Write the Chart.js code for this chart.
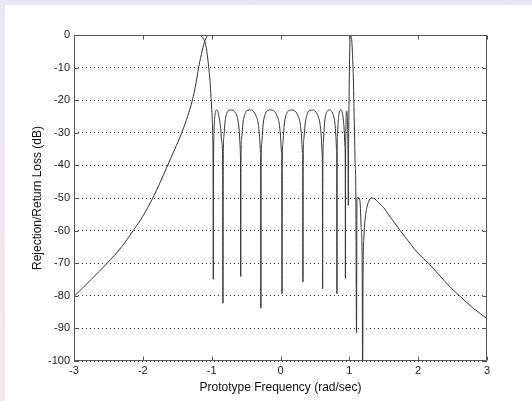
<!DOCTYPE html>
<html>
<head>
<meta charset="utf-8">
<script src="https://cdn.jsdelivr.net/npm/chart.js@4/dist/chart.umd.min.js"></script>
<style>
    html, body { margin: 0; padding: 0; }
    body {
        width: 532px;
        height: 401px;
        overflow: hidden;
        background: linear-gradient(#ebe6f6, #f7e6ee);
    }
    #frame {
        position: absolute;
        left: 5px;
        top: 5px;
        width: 527px;
        height: 396px;
        background: #fff;
    }
</style>
</head>
<body>
<div id="frame"><canvas id="filterChart" width="527" height="396"></canvas></div>
<script>
// tick values for both axes
const xTickValues = [-3, -2, -1, 0, 1, 2, 3];
const yTickValues = [0, -10, -20, -30, -40, -50, -60, -70, -80, -90, -100];

// rejection (S21), [frequency, dB]
const rejectionPts = [
    [-3, -80.2], [-2.75, -75], [-2.52, -70], [-2.32, -65.3], [-2.14, -60], [-2.0, -55.6],
    [-1.855, -50], [-1.75, -45.3], [-1.65, -40.5], [-1.54, -35.2], [-1.435, -30], [-1.35, -25],
    [-1.28, -20], [-1.23, -15], [-1.19, -10], [-1.15, -6], [-1.12, -3.3], [-1.095, -1.6],
    [-1.07, -0.5], [-1.045, 0], [1.015, 0], [1.025, -0.4], [1.035, -1.5], [1.046, -6],
    [1.058, -13], [1.07, -25], [1.083, -38], [1.095, -50], [1.104, -91.3], [1.111, -50],
    [1.13, -49.8], [1.155, -51], [1.172, -59], [1.186, -68], [1.193, -104], [1.2, -72],
    [1.212, -62], [1.232, -56], [1.26, -52.5], [1.29, -50.6], [1.325, -50], [1.37, -50.3],
    [1.43, -51.5], [1.5, -53], [1.6, -56], [1.74, -60], [1.9, -64.4], [2.0, -67],
    [2.15, -70], [2.3, -73.5], [2.45, -77], [2.6, -80], [2.8, -83.8], [3, -87]
];

// return loss (S11), [frequency, dB]
const returnLossPts = [
    [-3, 0], [-1.18, 0], [-1.15, -0.4], [-1.12, -1.2], [-1.095, -2.4], [-1.07, -5],
    [-1.045, -9.5], [-1.025, -14], [-1.01, -19], [-0.998, -23], [-0.986, -30], [-0.98, -40],
    [-0.976, -74.9],
    [-0.972, -38], [-0.966, -30], [-0.956, -25.5], [-0.942, -23.3], [-0.928, -23], [-0.91, -23.5],
    [-0.89, -25.5], [-0.87, -28.5], [-0.853, -33], [-0.841, -38],
    [-0.836, -82.3],
    [-0.832, -38], [-0.822, -31], [-0.805, -26.5], [-0.78, -24], [-0.745, -23.1], [-0.71, -23],
    [-0.675, -23.3], [-0.64, -24.5], [-0.615, -26.5], [-0.598, -30], [-0.585, -35], [-0.581, -40],
    [-0.578, -74.1],
    [-0.575, -40], [-0.565, -32], [-0.545, -27], [-0.515, -24.2], [-0.475, -23.1], [-0.435, -23],
    [-0.395, -23.4], [-0.355, -24.8], [-0.325, -27], [-0.305, -31], [-0.292, -36], [-0.288, -42],
    [-0.285, -83.8],
    [-0.282, -42], [-0.272, -33], [-0.25, -27], [-0.22, -24.2], [-0.18, -23.1], [-0.135, -23],
    [-0.09, -23.4], [-0.05, -24.8], [-0.02, -27], [0.0, -31], [0.014, -36], [0.019, -41],
    [0.022, -79.4],
    [0.025, -41], [0.035, -33], [0.057, -27], [0.088, -24.2], [0.128, -23.1], [0.17, -23],
    [0.215, -23.4], [0.255, -24.8], [0.285, -27], [0.305, -31], [0.318, -36], [0.323, -40],
    [0.326, -75.8],
    [0.329, -40], [0.339, -32], [0.36, -27], [0.39, -24.2], [0.428, -23.1], [0.467, -23],
    [0.505, -23.4], [0.545, -24.8], [0.572, -27], [0.592, -31], [0.604, -36], [0.609, -41],
    [0.612, -77.9],
    [0.615, -41], [0.623, -33], [0.64, -27], [0.662, -24.2], [0.69, -23.1], [0.715, -23],
    [0.742, -23.4], [0.77, -24.8], [0.79, -27], [0.805, -31], [0.814, -35], [0.818, -38],
    [0.82, -79.4],
    [0.822, -38], [0.828, -31], [0.838, -26.5], [0.852, -24], [0.868, -23.1], [0.88, -23],
    [0.895, -23.6], [0.91, -25.5], [0.925, -29], [0.936, -34], [0.941, -40],
    [0.943, -74.7],
    [0.945, -40], [0.949, -30], [0.955, -24.5], [0.962, -23.3], [0.969, -24.5], [0.976, -29],
    [0.981, -36], [0.983, -42],
    [0.985, -52.3],
    [0.987, -40], [0.992, -28], [0.998, -16], [1.004, -7], [1.01, -1.5], [1.018, 0], [3, 0]
];

const toXY = pts => pts.map(p => ({ x: p[0], y: p[1] }));

// MATLAB style box with inward ticks on all four sides
const matlabFrame = {
    id: 'matlabFrame',
    afterDatasetsDraw(chart) {
        const { ctx, chartArea: a, scales } = chart;
        const L = Math.round(a.left) + 0.5;
        const R = Math.round(a.right) - 0.5;
        const T = Math.round(a.top) + 0.5;
        const B = Math.round(a.bottom) - 0.5;
        const len = 4;
        ctx.save();
        ctx.strokeStyle = '#555';
        ctx.lineWidth = 1;
        ctx.setLineDash([]);
        ctx.beginPath();
        ctx.rect(L, T, R - L, B - T);
        scales.x.ticks.forEach(t => {
            const px = Math.round(scales.x.getPixelForValue(t.value)) + 0.5;
            ctx.moveTo(px, T); ctx.lineTo(px, T + len);
            ctx.moveTo(px, B); ctx.lineTo(px, B - len);
        });
        scales.y.ticks.forEach(t => {
            const py = Math.round(scales.y.getPixelForValue(t.value)) + 0.5;
            ctx.moveTo(L, py); ctx.lineTo(L + len, py);
            ctx.moveTo(R, py); ctx.lineTo(R - len, py);
        });
        ctx.stroke();
        ctx.restore();
    }
};

Chart.defaults.font.family = "'Liberation Sans', Arial, sans-serif";
Chart.defaults.color = '#111';

const lineStyle = {
    borderColor: '#333',
    borderWidth: 1,
    pointRadius: 0,
    fill: false,
    cubicInterpolationMode: 'monotone'
};

new Chart(document.getElementById('filterChart'), {
    type: 'line',
    data: {
        datasets: [
            { label: 'Rejection', data: toXY(rejectionPts), ...lineStyle },
            { label: 'Return Loss', data: toXY(returnLossPts), ...lineStyle }
        ]
    },
    options: {
        responsive: false,
        animation: false,
        devicePixelRatio: 1,
        layout: { padding: { top: 30, right: 45, bottom: 0, left: 0 } },
        plugins: {
            legend: { display: false },
            tooltip: { enabled: false }
        },
        scales: {
            x: {
                type: 'linear',
                min: -3,
                max: 3,
                afterBuildTicks: scale => { scale.ticks = xTickValues.map(v => ({ value: v })); },
                afterFit: scale => { scale.height = 40; },
                grid: { display: false, drawTicks: false },
                border: { display: false },
                ticks: { font: { size: 11 }, padding: 3, maxRotation: 0, color: '#222' },
                title: {
                    display: true,
                    text: 'Prototype Frequency (rad/sec)',
                    font: { size: 12 },
                    color: '#111',
                    padding: { top: 0, bottom: 6 }
                }
            },
            y: {
                type: 'linear',
                min: -100,
                max: 0,
                afterBuildTicks: scale => { scale.ticks = yTickValues.map(v => ({ value: v })); },
                afterFit: scale => { scale.width = 69; },
                grid: { color: '#333', lineWidth: 1, drawTicks: false },
                border: { display: false, dash: [1, 3] },
                ticks: { font: { size: 11 }, padding: 4, color: '#222' },
                title: {
                    display: true,
                    text: 'Rejection/Return Loss (dB)',
                    font: { size: 12 },
                    color: '#111',
                    padding: { top: 25, bottom: 0 }
                }
            }
        }
    },
    plugins: [matlabFrame]
});
</script>
</body>
</html>
